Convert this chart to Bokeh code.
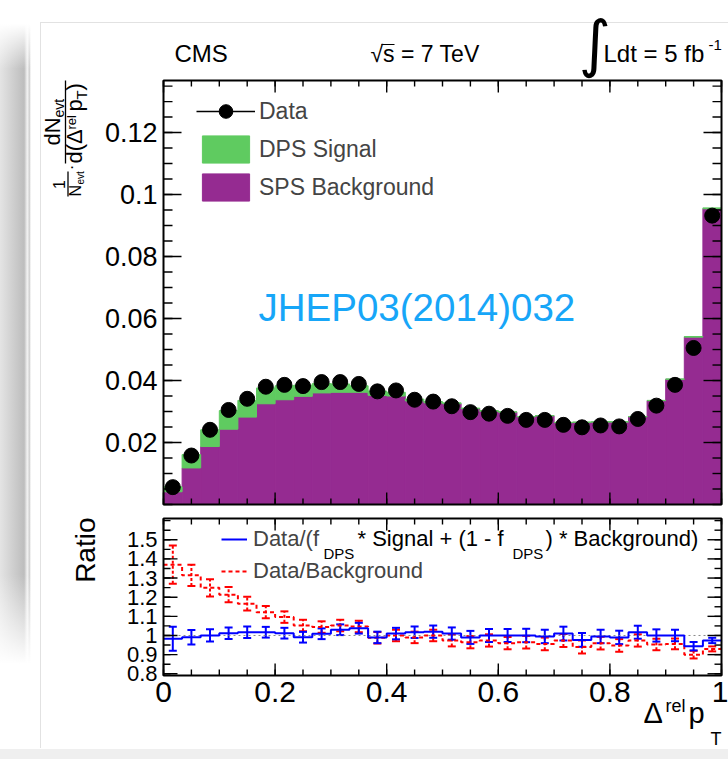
import numpy as np
from bokeh.plotting import figure
from bokeh.models import (Range1d, LinearAxis, FixedTicker, Label, Legend, LegendItem,
                          ColumnDataSource, Whisker, TeeHead, Arrow, BoxAnnotation)
from bokeh.embed import file_html
from bokeh.resources import INLINE

# ---------------- data ----------------
bin_edges = np.linspace(0.0, 1.0, 31)
data_values = [0.0056, 0.0158, 0.0241, 0.0305, 0.0341, 0.0380, 0.0386, 0.0382, 0.0395, 0.0395,
               0.0389, 0.0365, 0.0368, 0.0338, 0.0332, 0.0317, 0.0298, 0.0293, 0.0286, 0.0273,
               0.0273, 0.0257, 0.0249, 0.0255, 0.0252, 0.0276, 0.0319, 0.0386, 0.0505, 0.0932]
data_errors = [0.0004, 0.0006, 0.0007, 0.0008, 0.0008, 0.0009, 0.0009, 0.0009, 0.0009, 0.0009,
               0.0009, 0.0009, 0.0009, 0.0008, 0.0008, 0.0008, 0.0008, 0.0008, 0.0008, 0.0008,
               0.0008, 0.0008, 0.0008, 0.0008, 0.0008, 0.0008, 0.0009, 0.0010, 0.0011, 0.0014]
sps_background = [0.0041, 0.0118, 0.0187, 0.0243, 0.0282, 0.0325, 0.0338, 0.0349, 0.0360, 0.0362,
                  0.0362, 0.0352, 0.0350, 0.0334, 0.0328, 0.0325, 0.0309, 0.0301, 0.0298, 0.0283,
                  0.0286, 0.0264, 0.0265, 0.0266, 0.0266, 0.0283, 0.0335, 0.0404, 0.0540, 0.0954]
dps_signal = [0.0016, 0.0043, 0.0054, 0.0060, 0.0054, 0.0051, 0.0045, 0.0036, 0.0030, 0.0027,
              0.0021, 0.0014, 0.0012, 0.0006, 0.0004, 0.0003, 0.0002, 0.0002, 0.0001, 0.0001,
              0.0001, 0.0001, 0.0001, 0.0001, 0.0001, 0.0001, 0.0001, 0.0001, 0.0002, 0.0003]
ratio_fit = [0.983, 0.991, 1.000, 1.012, 1.017, 1.017, 1.012, 0.991, 1.009, 1.030,
             1.038, 0.990, 1.010, 1.017, 1.020, 1.010, 0.990, 1.000, 1.000, 1.000,
             0.995, 1.010, 0.977, 0.995, 0.990, 1.017, 1.000, 1.000, 0.944, 0.974]
ratio_fit_err = [0.063, 0.038, 0.032, 0.030, 0.030, 0.028, 0.028, 0.028, 0.028, 0.028,
                 0.028, 0.030, 0.030, 0.030, 0.032, 0.032, 0.034, 0.034, 0.034, 0.035,
                 0.035, 0.036, 0.036, 0.035, 0.035, 0.034, 0.032, 0.030, 0.022, 0.014]
ratio_bkg = [1.370, 1.314, 1.249, 1.213, 1.166, 1.122, 1.096, 1.052, 1.044, 1.052,
             1.047, 0.988, 1.000, 0.990, 1.000, 0.974, 0.965, 0.974, 0.960, 0.965,
             0.956, 0.974, 0.940, 0.960, 0.948, 0.974, 0.953, 0.956, 0.900, 0.930]
ratio_bkg_err = [0.100, 0.055, 0.045, 0.040, 0.036, 0.032, 0.030, 0.030, 0.030, 0.030,
                 0.030, 0.030, 0.030, 0.030, 0.030, 0.031, 0.032, 0.032, 0.032, 0.033,
                 0.033, 0.034, 0.034, 0.033, 0.033, 0.032, 0.030, 0.028, 0.020, 0.013]
ratio_reference = [1.0, 1.0]

main_y_ticks = [0.02, 0.04, 0.06, 0.08, 0.1, 0.12]
main_y_labels = ["0.02", "0.04", "0.06", "0.08", "0.1", "0.12"]
main_y_minor_step = 0.005
ratio_y_ticks = [0.8, 0.9, 1.0, 1.1, 1.2, 1.3, 1.4, 1.5]
ratio_y_labels = ["0.8", "0.9", "1", "1.1", "1.2", "1.3", "1.4", "1.5"]
ratio_y_minor_step = 0.05
x_ticks = [0.0, 0.2, 0.4, 0.6, 0.8, 1.0]
x_labels = ["0", "0.2", "0.4", "0.6", "0.8", "1"]
x_minor_step = 0.05

PURPLE = "#952b91"
GREEN = "#5fcb60"
FONT = "Liberation Sans"

# ---------------- geometry (page pixels) ----------------
W, HT = 728, 759
FL, FR = 163, 721           # pad left/right
T1, B1 = 80, 504            # main pad top/bottom
T2, B2 = 518, 675           # ratio pad top/bottom
Y1MAX = 0.1368
Y2MIN, Y2MAX = 0.791, 1.611
R = np.pi / 2
PPX = FR - FL
PPU1 = (B1 - T1) / Y1MAX
PPU2 = (B2 - T2) / (Y2MAX - Y2MIN)


def mx(sx):
    return (sx - FL) / PPX


def my1(sy):
    return (B1 - sy) / PPU1


lo = bin_edges[:-1]
hi = bin_edges[1:]
centers = 0.5 * (lo + hi)
bg = np.array(sps_background)
sig = np.array(dps_signal)
dv = np.array(data_values)
de = np.array(data_errors)


def minor_list(step, a, b):
    n = int(round((b - a) / step))
    return [round(a + step * k, 4) for k in range(n + 1)]


BG = ("linear-gradient(to bottom, #ffffff 0%, rgba(255,255,255,0) 7%, "
      "rgba(255,255,255,0) 86%, #ffffff 100%), "
      "linear-gradient(to right, #e4e4e4 0%, #bdbdbd 78%, #f3f3f3 88%, "
      "#d2d2d2 95%, #ffffff 100%), "
      "linear-gradient(#e2e2e2, #e2e2e2), linear-gradient(#e2e2e2, #e2e2e2), "
      "linear-gradient(#efefef, #efefef)")

# one canvas for the whole page; two pads through two y ranges
p = figure(width=W, height=HT, output_backend="svg", toolbar_location=None,
           x_axis_type=None, y_axis_type=None, min_border=0,
           x_range=Range1d(mx(0), mx(W)), y_range=Range1d(my1(HT), my1(0)),
           styles={"background-image": BG,
                   "background-size": "31px 640px, 31px 640px, 688px 1px, 1px 726px, "
                                      "728px 10px",
                   "background-position": "0px 24px, 0px 24px, 40px 22px, 40px 22px, "
                                          "0px 749px",
                   "background-repeat": "no-repeat"})
p.extra_y_ranges = {"ratio": Range1d(Y2MIN - (HT - B2) / PPU2, Y2MIN + B2 / PPU2)}
p.outline_line_color = None
p.background_fill_alpha = 0
p.border_fill_alpha = 0
if p.title is not None:
    p.title.visible = False


def label_axis(side, fixed, bounds, yname, ticks, labels, size):
    ax = LinearAxis(fixed_location=fixed, bounds=bounds, y_range_name=yname)
    ax.ticker = FixedTicker(ticks=ticks, minor_ticks=[])
    ax.axis_line_color = None
    ax.major_tick_in = 0
    ax.major_tick_out = 0
    ax.minor_tick_in = 0
    ax.minor_tick_out = 0
    ax.major_label_overrides = {t: l for t, l in zip(ticks, labels)}
    ax.major_label_text_font = FONT
    ax.major_label_text_font_size = f"{size}px"
    ax.major_label_text_color = "black"
    ax.major_label_standoff = 6
    p.add_layout(ax, side)


def inner_ticks(yname, xt, xminor, yt, yminor, ymin, ymax, ppu, xlen, ylen):
    """ROOT-like inward ticks on all four sides of a pad."""
    dyx = xlen / ppu
    dxy = ylen / PPX
    for ticks, f in ((xt, 1.0), (xminor, 0.5)):
        t = np.array(ticks)
        p.segment(x0=t, y0=ymin, x1=t, y1=ymin + dyx * f, y_range_name=yname,
                  line_color="black", line_width=1.4)
        p.segment(x0=t, y0=ymax, x1=t, y1=ymax - dyx * f, y_range_name=yname,
                  line_color="black", line_width=1.4)
    for ticks, f in ((yt, 1.0), (yminor, 0.5)):
        t = np.array(ticks)
        p.segment(x0=0.0, y0=t, x1=dxy * f, y1=t, y_range_name=yname,
                  line_color="black", line_width=1.4)
        p.segment(x0=1.0, y0=t, x1=1.0 - dxy * f, y1=t, y_range_name=yname,
                  line_color="black", line_width=1.4)


def put(sx, sy, text, size, align="left", angle=0.0, color="black", font=FONT):
    """Place a text with its alphabetic baseline at page pixel (sx, sy)."""
    if angle == 0.0:
        ax_, ay_ = sx, sy - 0.36 * size
    else:
        ax_, ay_ = sx - 0.36 * size, sy
    p.add_layout(Label(x=mx(ax_), y=my1(ay_), text=text, text_font_size=f"{size}px",
                       text_align=align, text_baseline="middle", angle=angle,
                       text_color=color, text_font=font))


def rule(sx0, sy0, sx1, sy1, width=1.3):
    p.add_layout(Arrow(end=None, x_start=mx(sx0), y_start=my1(sy0), x_end=mx(sx1),
                       y_end=my1(sy1), line_width=width, line_color="black"))


x_minor = minor_list(x_minor_step, 0, 1)

# ---------------- main pad ----------------
src = ColumnDataSource(dict(lo=lo, hi=hi, bg=bg, tot=bg + sig, x=centers, y=dv,
                            ylo=dv - de, yhi=dv + de))
r_bg = p.quad(left="lo", right="hi", bottom=0, top="bg", source=src,
              fill_color=PURPLE, line_color=PURPLE, line_width=1)
r_sig = p.quad(left="lo", right="hi", bottom="bg", top="tot", source=src,
               fill_color=GREEN, line_color=GREEN, line_width=1)
r_err = p.segment(x0="x", y0="ylo", x1="x", y1="yhi", source=src, line_color="black",
                  line_width=1.5)
r_pts = p.scatter(x="x", y="y", source=src, size=15, color="black")

inner_ticks("default", x_ticks, x_minor, main_y_ticks,
            minor_list(main_y_minor_step, 0, 0.135), 0.0, Y1MAX, PPU1, 12, 18)
p.add_layout(BoxAnnotation(left=0, right=1, bottom=0, top=Y1MAX, fill_color=None,
                           line_color="black", line_width=2, line_alpha=1))
label_axis("left", 0.0, (0, Y1MAX), "default", main_y_ticks, main_y_labels, 27)

leg1 = Legend(items=[LegendItem(label="Data", renderers=[r_err, r_pts]),
                     LegendItem(label="DPS Signal", renderers=[r_sig]),
                     LegendItem(label="SPS Background", renderers=[r_bg])],
              location=(196, HT - 204), glyph_width=59, glyph_height=34, label_height=34,
              spacing=4, padding=0, margin=0, label_standoff=4,
              label_text_font=FONT, label_text_font_size="23px",
              border_line_color=None, background_fill_alpha=0)
p.add_layout(leg1)
put(258, 321, "JHEP03(2014)032", 38.5, color="#17a6f8")


# ---------------- ratio pad ----------------
def step_path(values):
    xs, ys = [], []
    for i, v in enumerate(values):
        xs += [bin_edges[i], bin_edges[i + 1]]
        ys += [v, v]
    return xs, ys


p.line([0.0, 1.0], ratio_reference, y_range_name="ratio", line_color="#888888",
       line_dash="2 3", line_width=1)
bx, by = step_path(ratio_bkg)
fx_, fy_ = step_path(ratio_fit)
r_red = p.line(bx, by, y_range_name="ratio", line_color="#ff0000", line_width=2,
               line_dash="4 3")
r_blue = p.line(fx_, fy_, y_range_name="ratio", line_color="#0000ff", line_width=2)

rb = np.array(ratio_bkg)
rbe = np.array(ratio_bkg_err)
rf = np.array(ratio_fit)
rfe = np.array(ratio_fit_err)
ws_red = ColumnDataSource(dict(x=centers, lo=rb - rbe, hi=rb + rbe))
ws_blue = ColumnDataSource(dict(x=centers, lo=rf - rfe, hi=rf + rfe))
p.add_layout(Whisker(base="x", lower="lo", upper="hi", source=ws_red, dimension="height",
                     y_range_name="ratio", line_color="#ff0000", line_width=2,
                     line_dash="3 2",
                     upper_head=TeeHead(size=8, line_color="#ff0000", line_width=2),
                     lower_head=TeeHead(size=8, line_color="#ff0000", line_width=2)))
p.add_layout(Whisker(base="x", lower="lo", upper="hi", source=ws_blue, dimension="height",
                     y_range_name="ratio", line_color="#0000ff", line_width=2,
                     upper_head=TeeHead(size=8, line_color="#0000ff", line_width=2),
                     lower_head=TeeHead(size=8, line_color="#0000ff", line_width=2)))

inner_ticks("ratio", x_ticks, x_minor, ratio_y_ticks,
            minor_list(ratio_y_minor_step, 0.8, 1.6), Y2MIN, Y2MAX, PPU2, 12, 14)
p.add_layout(BoxAnnotation(left=0, right=1, bottom=Y2MIN, top=Y2MAX, y_range_name="ratio",
                           fill_color=None, line_color="black", line_width=2, line_alpha=1))
label_axis("left", 0.0, (Y2MIN, Y2MAX), "ratio", ratio_y_ticks, ratio_y_labels, 22)
label_axis("below", Y2MIN, (0, 1), "ratio", x_ticks, x_labels, 30)

leg2 = Legend(items=[LegendItem(label="Data/(f", renderers=[r_blue]),
                     LegendItem(label="Data/Background", renderers=[r_red])],
              location=(221, HT - 587), glyph_width=26, glyph_height=32, label_height=32,
              spacing=0, padding=0, margin=0, label_standoff=6,
              label_text_font=FONT, label_text_font_size="22px",
              border_line_color=None, background_fill_alpha=0)
p.add_layout(leg2)

put(323, 558, "DPS", 15)
put(357, 546, "* Signal + (1 - f", 22)
put(512, 558, "DPS", 15)
put(545, 546, ") * Background)", 22)

# ---------------- page texts ----------------
put(174, 62, "CMS", 24)
put(370, 62, "\u221as = 7 TeV", 23)
rule(381, 44, 394, 44, 1.2)
put(578, 65, "\u222b", 62, font="DejaVu Sans")
put(603, 62, "Ldt = 5 fb", 24)
put(708, 50, "-1", 15)

# rotated y title: 1/N_evt . dN_evt / d(Delta^rel p_T)
put(64, 184, "1", 16, align="center", angle=R)
put(80.5, 196, "N", 16, angle=R)
put(84, 184, "evt", 10, angle=R)
put(77, 167, "\u00b7", 17, align="center", angle=R)
put(60, 145, "dN", 22, angle=R)
put(63.5, 117, "evt", 14, angle=R)
put(82, 163, "d(\u0394", 22, angle=R)
put(76, 129, "rel", 13, angle=R)
put(82, 111, "p", 22, angle=R)
put(86, 99, "T", 15, angle=R)
put(82, 90, ")", 22, angle=R)
rule(67.5, 171, 67.5, 196)
rule(65, 80, 65, 163)

put(95, 517, "Ratio", 28, align="right", angle=R)
put(643, 723, "\u0394", 29)
put(665, 712, "rel", 18)
put(688, 723, "p", 29)
put(710, 745, "T", 18)

open("out.html", "w").write(file_html(p, INLINE))
